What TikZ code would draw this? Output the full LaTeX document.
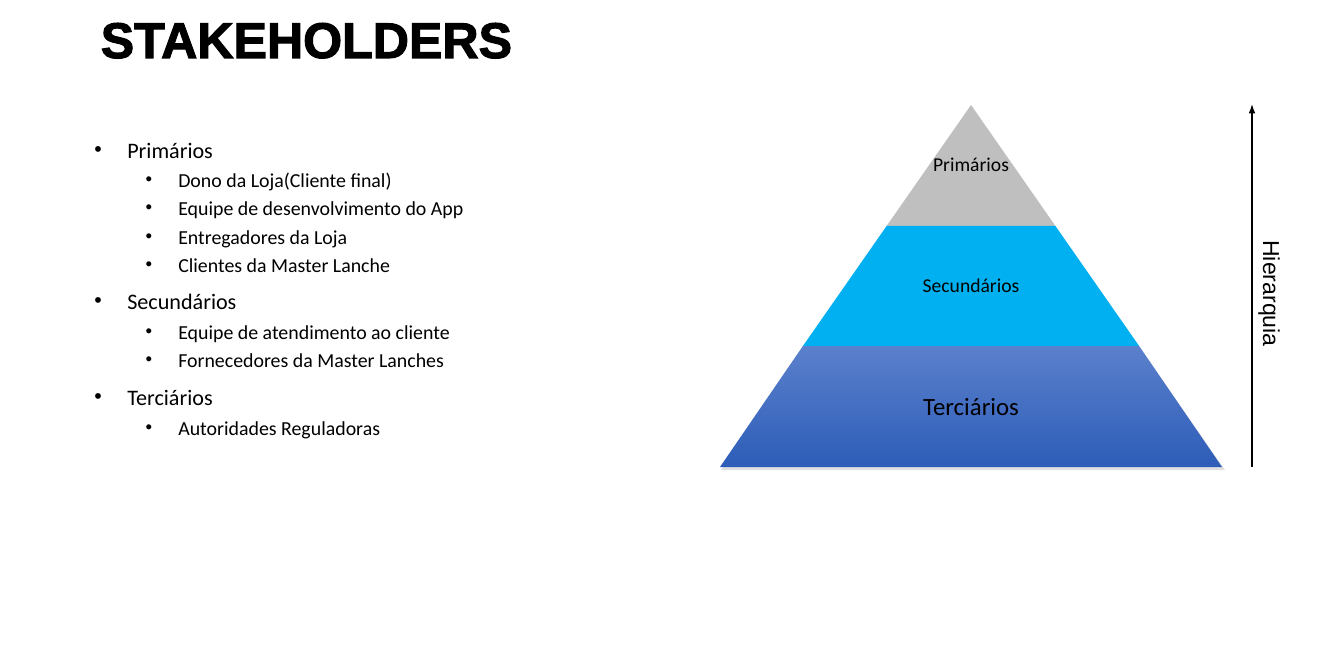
\documentclass[tikz,border=0pt]{standalone}
\usepackage{fontspec}
\setmainfont{Carlito}
\newfontfamily\headfont{Liberation Sans}
\usetikzlibrary{arrows.meta}
\definecolor{topgrey}{HTML}{BFBFBF}
\definecolor{midcyan}{HTML}{00B0F0}
\definecolor{lowtop}{HTML}{5B80CC}
\definecolor{lowbot}{HTML}{2D5DB8}
% heavier heading: fill and stroke the glyph outlines
\newcommand{\heavytext}[1]{\special{pdf:literal 2 Tr 0.8 w}#1\special{pdf:literal 0 Tr 0.4 w}}
\tikzset{
  title/.style={anchor=base west, inner sep=0, font=\headfont\bfseries\fontsize{37.6}{40}\selectfont},
  lvlone/.style={anchor=mid west, inner sep=0, font=\fontsize{16.6}{19}\selectfont},
  lvltwo/.style={anchor=mid west, inner sep=0, font=\fontsize{14.9}{17}\selectfont},
  dotone/.style={inner sep=0, font=\headfont\fontsize{16}{18}\selectfont},
  dottwo/.style={inner sep=0, font=\headfont\fontsize{14}{16}\selectfont},
  tierlbl/.style={inner sep=0, font=\fontsize{14.7}{17}\selectfont},
  axislbl/.style={inner sep=0, rotate=-90, font=\headfont\fontsize{17.3}{20}\selectfont},
}
\begin{document}
\begin{tikzpicture}[x=0.75pt, y=-0.75pt]
\useasboundingbox (0,0) rectangle (1344,648);
\fill[white] (0,0) rectangle (1344,648);

% heading
\node[title] (head) at (100.5,58) {\heavytext{STAKEHOLDERS}};

% bullet list
\foreach \nm/\yy/\txt in {pa/155/Primários, sa/306/Secundários, ta/402/Terciários}{
  \node[dotone] (d\nm) at (98,\yy-3) {•};
  \node[lvlone] (\nm) at (127,\yy) {\txt};
}
\foreach \nm/\yy/\txt in {
  pb/184/Dono da Loja(Cliente final),
  pc/212/Equipe de desenvolvimento do App,
  pd/241/Entregadores da Loja,
  pe/269/Clientes da Master Lanche,
  sb/336/Equipe de atendimento ao cliente,
  sc/364/Fornecedores da Master Lanches,
  tb/432/Autoridades Reguladoras}{
  \node[dottwo] (d\nm) at (149,\yy-3) {•};
  \node[lvltwo] (\nm) at (178,\yy) {\txt};
}

% pyramid: soft shadow, then the three tiers
\fill[black, opacity=0.12] (972,107) -- (1225,470) -- (721,470) -- cycle;
\fill[topgrey] (971,105) -- (1055.4,226) -- (886.6,226) -- cycle;
\fill[midcyan] (886.6,226) -- (1055.4,226) -- (1139.1,346) -- (802.9,346) -- cycle;
\shade[top color=lowtop, bottom color=lowbot]
  (802.9,346) -- (1139.1,346) -- (1222,467) -- (720,467) -- cycle;

\node[tierlbl] (lp) at (971,165) {Primários};
\node[tierlbl] (ls) at (971,286) {Secundários};
\node[tierlbl, font=\fontsize{18.6}{21}\selectfont] (lt) at (971,407) {Terciários};

% hierarchy axis
\coordinate (axlo) at (1252,467);
\coordinate (axhi) at (1252,104);
\draw[line width=0.9pt, -{Latex[length=7pt,width=5pt]}] (axlo) -- (axhi);
\node[axislbl] (axt) at (1269,293.5) {Hierarquia};
\end{tikzpicture}
\end{document}
